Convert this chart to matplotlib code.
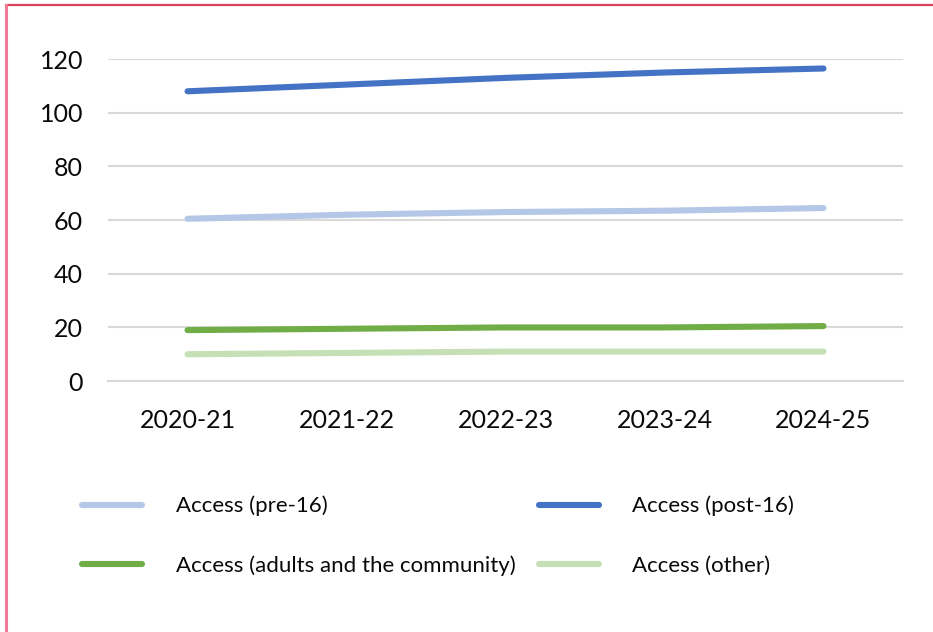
import matplotlib.pyplot as plt
from matplotlib.lines import Line2D

plt.rcParams['font.family'] = ['Lato', 'DejaVu Sans']

years = ['2020-21', '2021-22', '2022-23', '2023-24', '2024-25']
pre16 = [60.5, 62, 63, 63.5, 64.5]
post16 = [108, 110.5, 113, 115, 116.5]
adults = [19, 19.5, 20, 20, 20.5]
other = [10, 10.5, 11, 11, 11]
y_ticks = [0, 20, 40, 60, 80, 100, 120]

series = [
    ('Access (pre-16)', pre16, '#b4c7e7'),
    ('Access (post-16)', post16, '#4472c4'),
    ('Access (adults and the community)', adults, '#70ad47'),
    ('Access (other)', other, '#c5e0b4'),
]

fig = plt.figure(figsize=(9.33, 6.32), dpi=100)
ax = fig.add_axes([0.1158, 0.397, 0.852, 0.5095])

x = list(range(len(years)))
handles = {}
for name, vals, color in series:
    (ln,) = ax.plot(x, vals, color=color, lw=4.4, solid_capstyle='round', label=name, zorder=3)
    handles[name] = ln

ax.set_xlim(-0.5, len(years) - 0.5)
ax.set_ylim(0, 120)
ax.set_yticks(y_ticks)
ax.set_xticks(x)
ax.set_xticklabels(years)
ax.tick_params(axis='both', length=0, labelsize=18, colors='#0a0a0a')
ax.tick_params(axis='y', pad=18)
ax.tick_params(axis='x', pad=20)
ax.grid(axis='y', color='#d9d9d9', lw=1.5)
ax.set_axisbelow(True)
for side in ['top', 'right', 'left']:
    ax.spines[side].set_visible(False)
ax.spines['bottom'].set_color('#d9d9d9')
ax.spines['bottom'].set_linewidth(1.5)

# legend rows: pre-16 | post-16, adults | other
order = ['Access (pre-16)', 'Access (adults and the community)',
         'Access (post-16)', 'Access (other)']
leg = fig.legend([handles[n] for n in order], order, ncol=2,
                 loc='upper left', bbox_to_anchor=(0.0667, 0.247),
                 frameon=False, fontsize=16, handlelength=2.7,
                 handletextpad=1.5, columnspacing=1.05, labelspacing=1.75)
for txt in leg.get_texts():
    txt.set_color('#0a0a0a')

# page border
fig.add_artist(Line2D([0.0065, 1.0], [0.992, 0.992], transform=fig.transFigure,
                      color='#d9405f', lw=1.6))
fig.add_artist(Line2D([0.0065, 0.0065], [0.0, 0.992], transform=fig.transFigure,
                      color='#f07a95', lw=2.2))

fig.savefig('out.png', dpi=100, facecolor='white')
